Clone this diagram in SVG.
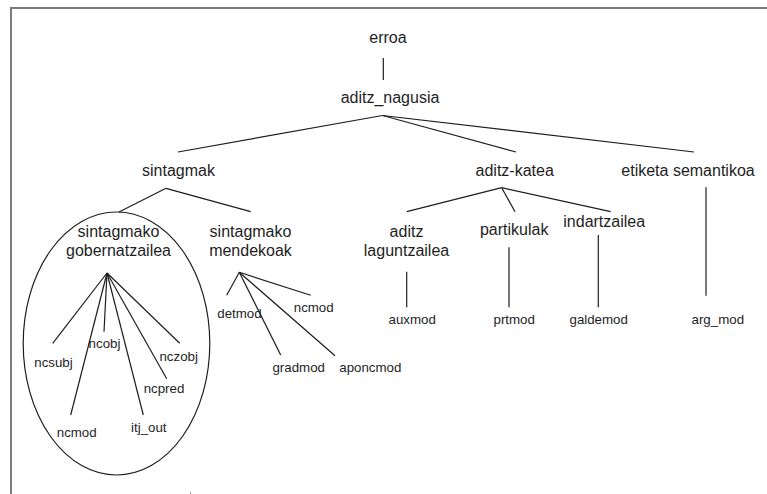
<svg xmlns="http://www.w3.org/2000/svg" width="767" height="494" viewBox="0 0 767 494">
  <style>
    text { font-family: "Liberation Sans", Arial, sans-serif; fill: #1e1e1e; text-anchor: middle; }
    .big { font-size: 16px; }
    .small { font-size: 13.3px; }
    .edge { stroke: #1e1e1e; stroke-width: 1.2; fill: none; }
    .frame { stroke: #7a7a7a; stroke-width: 2; fill: none; }
  </style>
  <rect width="767" height="494" fill="#ffffff"/>
  <!-- page frame (top and left edges) -->
  <path class="frame" d="M11 494 V8 H767"/>
  <path d="M190.5 492 V494" stroke="#9a9a9a" stroke-width="1"/>

  <g id="connectors">
    <line class="edge" x1="383.3" y1="58" x2="383.3" y2="80"/>
    <line class="edge" x1="382.5" y1="115.5" x2="178" y2="152"/>
    <line class="edge" x1="382.5" y1="115.5" x2="516" y2="152"/>
    <line class="edge" x1="382.5" y1="115.5" x2="694" y2="152"/>
    <line class="edge" x1="166" y1="188.3" x2="119" y2="212"/>
    <line class="edge" x1="166" y1="188.3" x2="250.7" y2="211.7"/>
    <line class="edge" x1="501.7" y1="187.7" x2="406.7" y2="211.7"/>
    <line class="edge" x1="501.7" y1="187.7" x2="515" y2="211.7"/>
    <line class="edge" x1="501.7" y1="187.7" x2="610.7" y2="211.7"/>
    <line class="edge" x1="706" y1="187.3" x2="706" y2="295.7"/>
    <line class="edge" x1="107" y1="273" x2="52.7" y2="343.3"/>
    <line class="edge" x1="107" y1="273" x2="104" y2="331.7"/>
    <line class="edge" x1="107" y1="273" x2="70.7" y2="415"/>
    <line class="edge" x1="107" y1="273" x2="143.3" y2="415"/>
    <line class="edge" x1="107" y1="273" x2="166.7" y2="378.7"/>
    <line class="edge" x1="107" y1="273" x2="179.7" y2="343.3"/>
    <line class="edge" x1="239.3" y1="272.3" x2="226.7" y2="295.3"/>
    <line class="edge" x1="239.3" y1="272.3" x2="310.7" y2="295.3"/>
    <line class="edge" x1="239.3" y1="272.3" x2="280.7" y2="355"/>
    <line class="edge" x1="239.3" y1="272.3" x2="335" y2="355.7"/>
    <line class="edge" x1="406.7" y1="271.7" x2="406.7" y2="307.3"/>
    <line class="edge" x1="509" y1="247.3" x2="509" y2="307.3"/>
    <line class="edge" x1="598.3" y1="235" x2="598.3" y2="307.3"/>
  </g>

  <g id="erroa"><text class="big" x="388" y="43.3">erroa</text></g>
  <g id="aditz_nagusia"><text class="big" x="390" y="103.3">aditz_nagusia</text></g>
  <g id="sintagmak"><text class="big" x="178.5" y="175.7">sintagmak</text></g>
  <g id="aditz-katea"><text class="big" x="514.7" y="175.7">aditz-katea</text></g>
  <g id="etiketa-semantikoa"><text class="big" x="688" y="175.7">etiketa semantikoa</text></g>

  <g id="gobernatzailea">
    <ellipse class="edge" cx="116.5" cy="343.5" rx="93.3" ry="131.5"/>
    <text class="big" x="118.5" y="237.3">sintagmako</text>
    <text class="big" x="118.5" y="256">gobernatzailea</text>
  </g>
  <g id="mendekoak">
    <text class="big" x="250.5" y="237.3">sintagmako</text>
    <text class="big" x="250.5" y="256">mendekoak</text>
  </g>
  <g id="aditz-laguntzailea">
    <text class="big" x="406.5" y="237.3">aditz</text>
    <text class="big" x="406.5" y="256">laguntzailea</text>
  </g>
  <g id="partikulak"><text class="big" x="514.2" y="235">partikulak</text></g>
  <g id="indartzailea"><text class="big" x="604.2" y="227.3">indartzailea</text></g>

  <g id="ncsubj"><text class="small" x="53.5" y="366.7">ncsubj</text></g>
  <g id="ncobj"><text class="small" x="104.5" y="348.3">ncobj</text></g>
  <g id="nczobj"><text class="small" x="178.7" y="361">nczobj</text></g>
  <g id="ncpred"><text class="small" x="164" y="393.3">ncpred</text></g>
  <g id="ncmod-gob"><text class="small" x="76.7" y="437.3">ncmod</text></g>
  <g id="itj_out"><text class="small" x="148.8" y="431.7">itj_out</text></g>

  <g id="detmod"><text class="small" x="239.5" y="317.5">detmod</text></g>
  <g id="ncmod-mend"><text class="small" x="313.7" y="311.7">ncmod</text></g>
  <g id="gradmod"><text class="small" x="298.7" y="371.5">gradmod</text></g>
  <g id="aponcmod"><text class="small" x="370.3" y="371.5">aponcmod</text></g>

  <g id="auxmod"><text class="small" x="412.2" y="324">auxmod</text></g>
  <g id="prtmod"><text class="small" x="514.2" y="324">prtmod</text></g>
  <g id="galdemod"><text class="small" x="598.7" y="324">galdemod</text></g>
  <g id="arg_mod"><text class="small" x="717.8" y="324">arg_mod</text></g>
</svg>
